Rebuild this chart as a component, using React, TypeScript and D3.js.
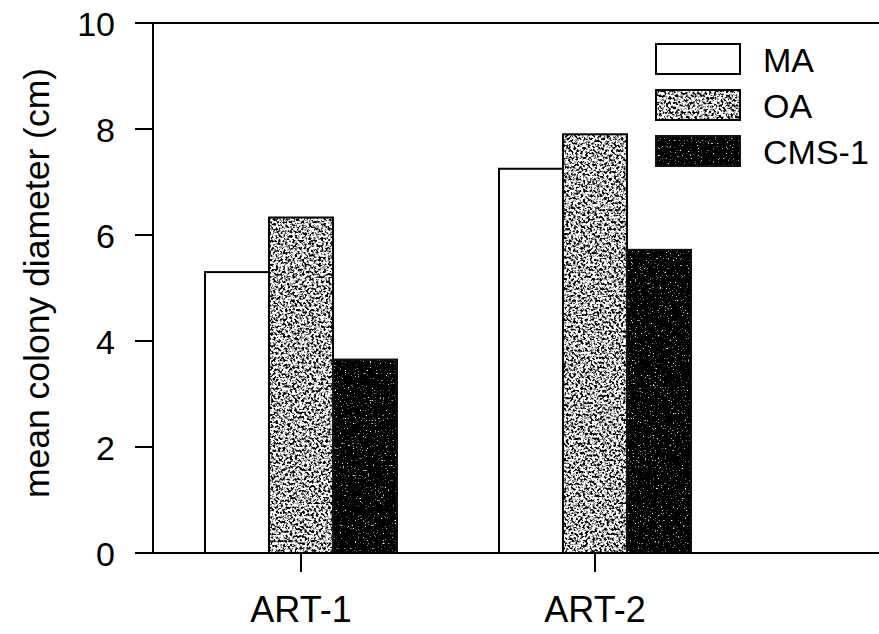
import React from "react";
import * as d3 from "d3";

const categories = ["ART-1", "ART-2"];
const series = ["MA", "OA", "CMS-1"];
const maValues = [5.3, 7.25];
const oaValues = [6.33, 7.9];
const cmsValues = [3.65, 5.72];
const yTicks = [0, 2, 4, 6, 8, 10];

const W = 879;
const H = 634;
const FONT = "'Liberation Sans', Arial, Helvetica, sans-serif";

const valuesBySeries: Record<string, number[]> = {
  MA: maValues,
  OA: oaValues,
  "CMS-1": cmsValues,
};

// fill / filter per series: plain white, light stipple, dark stipple
const seriesStyle: Record<string, { fill: string; filter?: string; stroke: string }> = {
  MA: { fill: "#ffffff", stroke: "#000" },
  OA: { fill: "#a8a8a8", filter: "url(#stippleLight)", stroke: "#000" },
  "CMS-1": { fill: "#1a1a1a", filter: "url(#stippleDark)", stroke: "#111" },
};

export default function App() {
  const axisX = 153;
  const y = d3.scaleLinear().domain([0, 10]).range([553, 23]);
  const x0 = d3.scalePoint<string>().domain(categories).range([154, 742]).padding(0.5);
  const x1 = d3.scaleBand<string>().domain(series).range([-96, 96]).padding(0);

  const bars = categories.flatMap((cat, i) =>
    series.map((s) => ({ cat, s, v: valuesBySeries[s][i] }))
  );

  const legendX = 656;
  const legendY0 = 44;
  const legendStep = 46;

  return (
    <svg
      width={W}
      height={H}
      style={{ position: "absolute", left: 0, top: 0, background: "#fff" }}
      fontFamily={FONT}
    >
      <defs>
        <filter id="stippleLight" x="0" y="0" width="1" height="1" colorInterpolationFilters="sRGB">
          <feTurbulence type="fractalNoise" baseFrequency="0.42" numOctaves={2} seed={7} result="n" />
          <feColorMatrix
            in="n"
            type="matrix"
            values="5 0 0 0 -1.8  5 0 0 0 -1.8  5 0 0 0 -1.8  0 0 0 0 1"
            result="g"
          />
          <feComposite in="g" in2="SourceGraphic" operator="in" />
        </filter>
        <filter id="stippleDark" x="0" y="0" width="1" height="1" colorInterpolationFilters="sRGB">
          <feTurbulence type="fractalNoise" baseFrequency="0.6" numOctaves={2} seed={11} result="n" />
          <feColorMatrix
            in="n"
            type="matrix"
            values="6 0 0 0 -3.9  6 0 0 0 -3.9  6 0 0 0 -3.9  0 0 0 0 1"
            result="g"
          />
          <feComposite in="g" in2="SourceGraphic" operator="in" />
        </filter>
      </defs>

      {/* bars */}
      {bars.map((b) => {
        const bx = (x0(b.cat) as number) + (x1(b.s) as number);
        const bw = x1.bandwidth();
        const by = y(b.v);
        const bh = y(0) - by;
        const st = seriesStyle[b.s];
        return (
          <g key={b.cat + b.s}>
            <rect x={bx} y={by} width={bw} height={bh} fill={st.fill} filter={st.filter} />
            <rect x={bx} y={by} width={bw} height={bh} fill="none" stroke={st.stroke} strokeWidth={2} />
          </g>
        );
      })}

      {/* frame lines */}
      <line x1={135} x2={W} y1={y(10)} y2={y(10)} stroke="#000" strokeWidth={2} />
      <line x1={137} x2={W} y1={y(0)} y2={y(0)} stroke="#000" strokeWidth={2} />
      <line x1={axisX} x2={axisX} y1={y(10)} y2={y(0)} stroke="#000" strokeWidth={2} />

      {/* y ticks */}
      {yTicks.map((t) => (
        <g key={t}>
          <line x1={135} x2={axisX} y1={y(t)} y2={y(t)} stroke="#000" strokeWidth={2} />
          <text
            x={115}
            y={y(t) + 1}
            textAnchor="end"
            dominantBaseline="central"
            fontSize={34}
            fill="#000"
          >
            {t}
          </text>
        </g>
      ))}

      {/* x ticks */}
      {categories.map((c) => (
        <g key={c}>
          <line
            x1={x0(c) as number}
            x2={x0(c) as number}
            y1={y(0)}
            y2={y(0) + 19}
            stroke="#000"
            strokeWidth={2}
          />
          <text x={x0(c) as number} y={622} textAnchor="middle" fontSize={36} fill="#000">
            {c}
          </text>
        </g>
      ))}

      {/* y axis title */}
      <text
        transform={`translate(49,${283}) rotate(-90)`}
        textAnchor="middle"
        fontSize={35.5}
        fill="#000"
      >
        mean colony diameter (cm)
      </text>

      {/* legend */}
      {series.map((s, i) => {
        const st = seriesStyle[s];
        const ly = legendY0 + i * legendStep;
        return (
          <g key={s}>
            <rect x={legendX} y={ly} width={84} height={30} fill={st.fill} filter={st.filter} />
            <rect x={legendX} y={ly} width={84} height={30} fill="none" stroke={st.stroke} strokeWidth={2} />
            <text x={763} y={ly + 16} dominantBaseline="central" fontSize={34} fill="#000">
              {s}
            </text>
          </g>
        );
      })}
    </svg>
  );
}
